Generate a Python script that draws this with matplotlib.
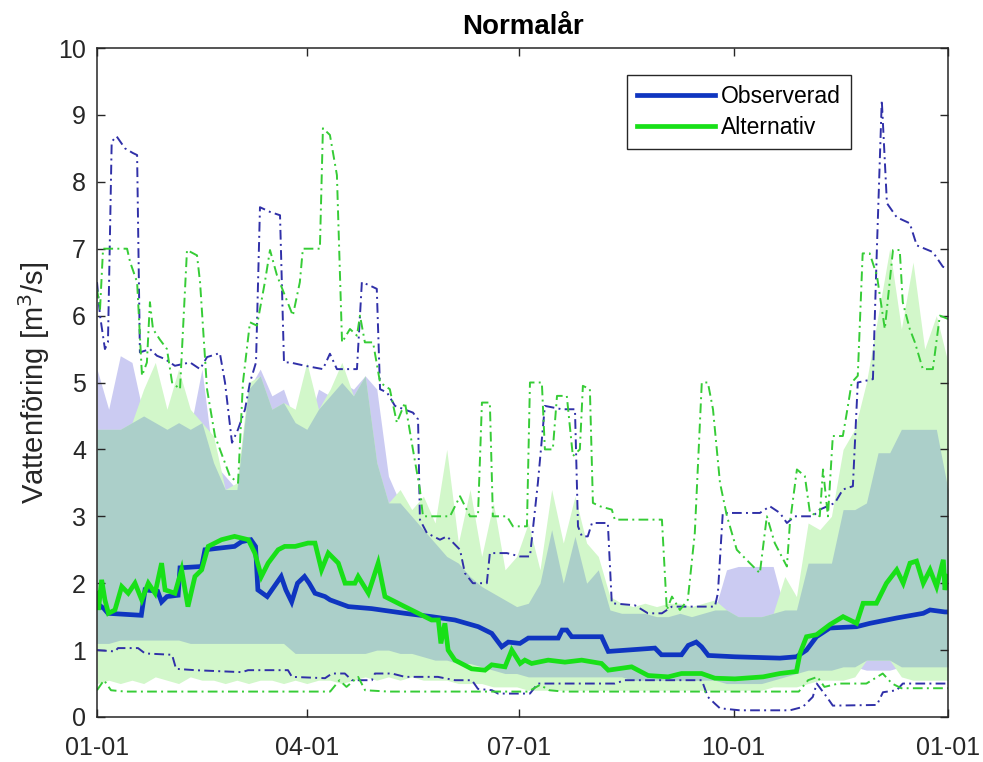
import numpy as np
import matplotlib
matplotlib.use('Agg')
import matplotlib.pyplot as plt

plt.rcParams['font.family'] = ['Liberation Sans', 'DejaVu Sans']

# --- data (day of year, flow in m3/s) ---------------------------------------
TICK_DAYS = [0, 90, 181, 273, 365]
TICK_LABELS = ['01-01', '04-01', '07-01', '10-01', '01-01']

OBS_MED_DAYS = [0, 3, 4.7, 19, 20.6, 26, 27.7, 30, 34.8, 35.6, 44.9, 46.3, 59,
                62, 66, 68, 69, 73, 77, 79, 81, 83.5, 86, 89, 91, 93.5, 97.8,
                100, 107.8, 117.8, 132, 143.5, 153.5, 163.5, 169.3, 173.6,
                176.4, 181.4, 185, 197.8, 199.5, 201.5, 203.6, 216.4, 219.3,
                239.3, 242.1, 250.7, 253.6, 257, 259.3, 262.2, 273.6, 292.9,
                300, 304.3, 308.6, 314.3, 325.8, 331.5, 343, 354.4, 357.3,
                363.7, 365]
OBS_MED = [1.70, 1.62, 1.55, 1.52, 1.90, 1.88, 1.72, 1.80, 1.82, 2.23, 2.25,
           2.50, 2.55, 2.62, 2.65, 2.55, 1.90, 1.80, 2.00, 2.10, 1.90, 1.72,
           2.00, 2.10, 2.00, 1.85, 1.80, 1.75, 1.65, 1.62, 1.55, 1.50, 1.45,
           1.35, 1.25, 1.05, 1.12, 1.10, 1.18, 1.18, 1.30, 1.30, 1.20, 1.20,
           0.98, 1.03, 0.93, 0.93, 1.07, 1.12, 1.05, 0.92, 0.90, 0.88, 0.90,
           1.00, 1.20, 1.33, 1.35, 1.40, 1.48, 1.55, 1.60, 1.57, 1.57]

ALT_MED_DAYS = [0, 0.6, 2, 3.4, 4.9, 7.7, 10.6, 13.4, 16.3, 19.2, 22, 24.9,
                27.7, 29.2, 33.4, 36.3, 39, 42, 44.9, 47.7, 53.4, 59, 64.9,
                67.7, 70.5, 73.4, 77.7, 80.5, 85, 90.5, 93.5, 96.3, 99.2,
                103.5, 106.4, 110.6, 112, 116.4, 120.6, 123.5, 132, 143.5,
                146.4, 147.5, 149.2, 150.6, 153.5, 160.7, 166.4, 169.3, 175,
                177.9, 181.5, 183.5, 186.4, 193.5, 200.7, 207.9, 216.4, 219.3,
                229.3, 236.4, 245, 250.7, 259.3, 265, 273.6, 285.7, 292.9,
                300, 301.5, 304.3, 308.6, 314.3, 320, 325.8, 328.6, 334.3,
                338.6, 343, 345.8, 348.7, 351.5, 354.4, 357.3, 360.1, 363,
                363.7, 365]
ALT_MED = [1.85, 1.60, 2.05, 1.75, 1.55, 1.60, 1.95, 1.85, 2.00, 1.75, 2.00,
           1.85, 2.30, 1.90, 1.85, 2.20, 1.65, 2.10, 2.20, 2.55, 2.65, 2.70,
           2.65, 2.45, 2.10, 2.30, 2.50, 2.55, 2.55, 2.60, 2.60, 2.20, 2.45,
           2.30, 2.00, 2.00, 2.10, 1.85, 2.30, 1.80, 1.65, 1.45, 1.45, 1.10,
           1.40, 1.00, 0.85, 0.72, 0.70, 0.78, 0.75, 1.00, 0.80, 0.85, 0.80,
           0.85, 0.82, 0.85, 0.80, 0.70, 0.75, 0.62, 0.60, 0.65, 0.65, 0.58,
           0.57, 0.60, 0.65, 0.68, 0.95, 1.20, 1.23, 1.38, 1.50, 1.40, 1.70,
           1.70, 2.00, 2.20, 2.00, 2.30, 2.33, 2.00, 2.20, 1.95, 2.35, 1.90,
           2.10]

OBS_MAX_DAYS = [0, 1.3, 3.4, 4.7, 6.3, 8.4, 12, 15.4, 17.2, 18.4, 22.7, 25.7,
                29.2, 33.4, 39.9, 44.2, 47.2, 52.7, 54.9, 57.9, 60.5, 63.5,
                65.6, 68.2, 69.9, 74.2, 78.5, 80.2, 82.8, 89.2, 96.9, 99.9,
                102.9, 111.5, 113.6, 117, 120, 121.4, 124.4, 127.8, 135.5,
                137.7, 138.5, 141.5, 147.1, 150.1, 155.7, 157.8, 161.2, 167.2,
                168.5, 175.8, 181.4, 185.7, 189.1, 192.1, 199.4, 205, 206.3,
                208, 210.5, 212.3, 219.1, 220.8, 230.7, 236.3, 242.3, 246.6,
                265, 266.3, 268.4, 284.3, 288.6, 292.9, 295.9, 299.3, 307, 310,
                316.5, 319.9, 324.2, 326.3, 332.8, 334.5, 336.6, 338.8, 343,
                348.6, 351.6, 358.5, 362.8, 365]
OBS_MAX = [6.50, 6.00, 5.50, 5.60, 8.60, 8.68, 8.50, 8.43, 8.40, 5.45, 5.50,
           5.40, 5.35, 5.25, 5.30, 5.20, 5.38, 5.44, 5.00, 4.10, 4.30, 4.60,
           5.00, 5.30, 7.62, 7.55, 7.50, 5.30, 5.30, 5.25, 5.20, 5.43, 5.20,
           5.20, 6.50, 6.45, 6.40, 4.90, 4.85, 4.65, 4.55, 4.45, 2.95, 2.75,
           2.65, 2.70, 2.50, 2.15, 2.00, 2.00, 2.45, 2.45, 2.40, 2.40, 3.50,
           4.65, 4.60, 4.60, 2.85, 2.70, 2.70, 2.90, 2.90, 1.70, 1.67, 1.55,
           1.55, 1.65, 1.65, 1.85, 3.05, 3.05, 3.15, 3.05, 2.90, 3.00, 3.00,
           3.10, 3.20, 3.40, 3.45, 5.00, 5.05, 7.00, 9.22, 7.68, 7.47, 7.38,
           7.05, 6.95, 6.73, 6.70]

OBS_MIN_DAYS = [0, 7.7, 9, 17.6, 20.6, 32.2, 33.9, 42, 62.2, 64.8, 81.9, 83.6,
                97.8, 100.8, 106.3, 109.3, 117.9, 119.2, 126.5, 132.1, 146.2,
                153.5, 160.8, 163.4, 169.4, 172, 185.7, 189.1, 222.1, 226.4,
                259.4, 262, 265, 267.2, 275.7, 297.2, 302.7, 307, 308.7, 313,
                315.6, 334.5, 337.1, 343, 345.6, 365]
OBS_MIN = [1.00, 0.98, 1.03, 1.03, 0.95, 0.93, 0.72, 0.70, 0.67, 0.70, 0.70,
           0.60, 0.58, 0.65, 0.65, 0.55, 0.55, 0.65, 0.65, 0.60, 0.60, 0.55,
           0.55, 0.42, 0.40, 0.35, 0.35, 0.50, 0.50, 0.55, 0.55, 0.30, 0.20,
           0.13, 0.10, 0.10, 0.15, 0.30, 0.50, 0.30, 0.17, 0.18, 0.37, 0.40,
           0.50, 0.50]

ALT_MAX_DAYS = [0, 1.3, 2.6, 12.9, 14.2, 17.2, 19.3, 21.4, 22.7, 24, 27, 30,
                32.2, 35.6, 38.6, 42.9, 44.2, 47.2, 50.6, 57, 60.5, 62.6, 65.6,
                68.6, 72, 74.2, 77.2, 80.6, 84, 87, 88.3, 95.6, 96.9, 99.9,
                102.9, 105.1, 108.5, 111.5, 112.8, 114.9, 118.4, 121.4, 125.6,
                128.6, 132.1, 135.5, 138.5, 139.8, 151.4, 155.7, 160, 163.4,
                165.1, 168.5, 169.8, 175.8, 178.4, 184.4, 185.7, 190.8, 192.1,
                195.5, 197.3, 201.5, 204.1, 207.1, 208.4, 211.4, 212.7, 215.7,
                220.8, 222.1, 242.3, 244.4, 246.6, 250, 253.4, 256.4, 259.4,
                262, 264.2, 267.2, 270.2, 274.4, 280, 284.3, 287.3, 290.7,
                295.9, 297.2, 300.2, 303.6, 305.8, 310, 311.4, 313.5, 315.6,
                319.9, 321.6, 323.7, 326.3, 328.4, 331.4, 334.5, 337.9, 341.4,
                344.3, 345.6, 348.6, 350.8, 354.2, 358.5, 361.5, 365]
ALT_MAX = [6.40, 6.10, 7.00, 7.00, 6.80, 6.50, 5.10, 5.30, 6.20, 5.80, 5.64,
           5.50, 5.00, 4.90, 6.98, 6.90, 6.50, 4.90, 4.20, 3.60, 3.50, 5.00,
           5.90, 5.85, 6.50, 6.98, 6.60, 6.30, 6.00, 6.50, 7.00, 7.00, 8.80,
           8.70, 8.10, 5.60, 5.80, 5.70, 6.00, 5.60, 5.60, 5.00, 4.90, 4.40,
           4.70, 4.00, 3.40, 3.00, 3.00, 3.30, 3.00, 3.00, 4.70, 4.70, 3.00,
           3.00, 2.85, 2.85, 5.00, 5.00, 4.00, 4.00, 4.80, 4.80, 3.90, 4.00,
           4.95, 4.90, 3.20, 3.15, 3.10, 2.95, 2.95, 1.60, 1.80, 1.60, 1.75,
           2.75, 5.00, 5.00, 4.60, 3.50, 3.00, 2.50, 2.30, 2.15, 3.00, 2.60,
           2.25, 2.90, 3.70, 3.60, 3.05, 3.00, 3.70, 3.00, 4.20, 4.20, 4.55,
           5.00, 5.10, 6.93, 6.93, 6.60, 5.80, 6.98, 6.98, 6.20, 5.80, 5.60,
           5.20, 5.20, 6.00, 5.95]

ALT_MIN_DAYS = [0, 3, 6, 12, 100, 104, 107, 112, 115, 125, 185, 190, 194, 200,
                301, 305, 309, 312, 318, 330, 337, 341, 345, 365]
ALT_MIN = [0.40, 0.55, 0.40, 0.38, 0.38, 0.55, 0.45, 0.60, 0.40, 0.38, 0.38,
           0.48, 0.40, 0.38, 0.38, 0.55, 0.60, 0.45, 0.50, 0.50, 0.65, 0.50,
           0.43, 0.43]

# percentile bands, sampled every 5 days
BAND_DAYS = list(range(0, 366, 5))
OBS_HI = [5.2, 4.6, 5.4, 5.3, 4.5, 4.4, 4.3, 4.4, 4.3, 5.2, 3.8, 3.6, 3.4,
          4.9, 5.2, 4.8, 4.9, 4.4, 4.3, 4.9, 4.8, 5.0, 4.9, 5.1, 4.9, 3.6,
          3.2, 3.0, 2.8, 2.6, 2.4, 2.3, 2.1, 1.95, 1.85, 1.75, 1.65, 1.7, 2.0,
          2.8, 2.0, 2.7, 2.0, 2.2, 1.6, 1.55, 1.55, 1.55, 1.5, 1.5, 1.55, 1.5,
          1.55, 1.6, 2.2, 2.25, 2.25, 2.25, 2.25, 1.6, 1.6, 2.3, 2.3, 2.3,
          3.1, 3.1, 3.2, 3.95, 3.95, 4.3, 4.3, 4.3, 4.3, 3.4]
ALT_HI = [4.3, 4.3, 4.3, 4.4, 4.9, 5.3, 4.6, 5.2, 4.6, 4.4, 4.2, 3.4, 3.5,
          5.0, 5.1, 4.6, 4.7, 4.6, 5.3, 4.6, 4.9, 5.3, 4.8, 5.1, 3.8, 3.2,
          3.4, 3.1, 3.3, 2.9, 4.0, 2.6, 3.4, 2.4, 3.2, 2.2, 2.4, 2.9, 2.2,
          3.4, 2.6, 3.3, 2.6, 2.4, 1.8, 1.7, 1.65, 1.7, 1.65, 1.7, 1.7, 1.65,
          1.7, 1.75, 1.6, 1.5, 1.5, 1.5, 1.55, 2.1, 1.8, 2.9, 2.8, 3.0, 4.0,
          4.3, 5.0, 6.0, 7.0, 5.8, 6.8, 5.5, 6.0, 5.3]
OBS_LO = [1.1, 1.1, 1.15, 1.15, 1.15, 1.15, 1.15, 1.15, 1.1, 1.1, 1.1, 1.1,
          1.1, 1.1, 1.1, 1.1, 1.1, 0.95, 0.95, 0.95, 0.95, 0.95, 0.95, 0.95,
          1.0, 1.0, 0.95, 0.95, 0.9, 0.85, 0.85, 0.8, 0.8, 0.75, 0.7, 0.65,
          0.65, 0.6, 0.6, 0.6, 0.6, 0.6, 0.6, 0.6, 0.6, 0.6, 0.55, 0.55, 0.55,
          0.55, 0.55, 0.55, 0.55, 0.55, 0.5, 0.5, 0.5, 0.5, 0.55, 0.6, 0.65,
          0.7, 0.7, 0.7, 0.75, 0.75, 0.7, 0.7, 0.7, 0.75, 0.75, 0.75, 0.75,
          0.75]
ALT_LO = [0.5, 0.55, 0.5, 0.55, 0.5, 0.6, 0.55, 0.5, 0.6, 0.55, 0.55, 0.5,
          0.55, 0.5, 0.55, 0.55, 0.5, 0.55, 0.5, 0.55, 0.55, 0.5, 0.55, 0.6,
          0.55, 0.6, 0.55, 0.6, 0.55, 0.55, 0.55, 0.5, 0.5, 0.5, 0.45, 0.45,
          0.45, 0.4, 0.4, 0.4, 0.4, 0.4, 0.4, 0.4, 0.4, 0.4, 0.4, 0.4, 0.4,
          0.4, 0.4, 0.4, 0.4, 0.4, 0.4, 0.4, 0.4, 0.4, 0.45, 0.45, 0.45, 0.5,
          0.55, 0.55, 0.55, 0.6, 0.85, 0.85, 0.85, 0.6, 0.55, 0.55, 0.55,
          0.55]

# --- colours -----------------------------------------------------------------
C_OBS = '#0f35c0'
C_ALT = '#18e018'
C_OBS_DD = '#3030a8'
C_ALT_DD = '#36cc36'
C_OBS_BAND = '#cbcbf2'
C_ALT_BAND = '#d2f7ca'
C_BOTH = '#abcfc9'
C_INK = '#262626'
DASHDOT = (0, (5, 2.2, 1, 2.2))

fig = plt.figure(figsize=(9.83, 7.62), dpi=100)
ax = fig.add_axes([97 / 983, 45 / 762, 851 / 983, 669 / 762])

band_x = np.array(BAND_DAYS, dtype=float)
obs_hi, obs_lo = np.array(OBS_HI), np.array(OBS_LO)
alt_hi, alt_lo = np.array(ALT_HI), np.array(ALT_LO)
ax.fill_between(band_x, obs_lo, obs_hi, color=C_OBS_BAND, linewidth=0)
ax.fill_between(band_x, alt_lo, alt_hi, color=C_ALT_BAND, linewidth=0)
# overlap of the two bands
ax.fill_between(band_x, np.maximum(obs_lo, alt_lo), np.minimum(obs_hi, alt_hi),
                color=C_BOTH, linewidth=0)

ax.plot(OBS_MAX_DAYS, OBS_MAX, color=C_OBS_DD, lw=1.4, ls=DASHDOT)
ax.plot(OBS_MIN_DAYS, OBS_MIN, color=C_OBS_DD, lw=1.4, ls=DASHDOT)
ax.plot(ALT_MAX_DAYS, ALT_MAX, color=C_ALT_DD, lw=1.4, ls=DASHDOT)
ax.plot(ALT_MIN_DAYS, ALT_MIN, color=C_ALT_DD, lw=1.4, ls=DASHDOT)

ax.plot(OBS_MED_DAYS, OBS_MED, color=C_OBS, lw=3.4, label='Observerad',
        solid_joinstyle='miter')
ax.plot(ALT_MED_DAYS, ALT_MED, color=C_ALT, lw=3.4, label='Alternativ',
        solid_joinstyle='miter')

ax.set_xlim(0, 365)
ax.set_ylim(0, 10)
ax.set_xticks(TICK_DAYS)
ax.set_xticklabels(TICK_LABELS)
ax.set_yticks(range(0, 11))
ax.tick_params(direction='in', length=6, width=1, top=True, right=True,
               labelsize=18, colors=C_INK)
ax.tick_params(axis='x', pad=14)
ax.tick_params(axis='y', pad=8)
for side in ax.spines.values():
    side.set_color(C_INK)
    side.set_linewidth(1.1)

ax.set_ylabel('Vattenföring [m$^3$/s]', fontsize=21, color=C_INK,
              labelpad=4)
ax.set_title('Normalår', fontsize=20, fontweight='bold', pad=10)

leg = ax.legend(loc='upper right', bbox_to_anchor=(0.886, 0.96),
                borderaxespad=0, fontsize=16.5, handlelength=3.4,
                handletextpad=0.25, labelspacing=0.35, borderpad=0.45,
                fancybox=False, framealpha=1, edgecolor=C_INK)
leg.get_frame().set_linewidth(1.0)

fig.savefig('out.png', dpi=100, facecolor='white')
